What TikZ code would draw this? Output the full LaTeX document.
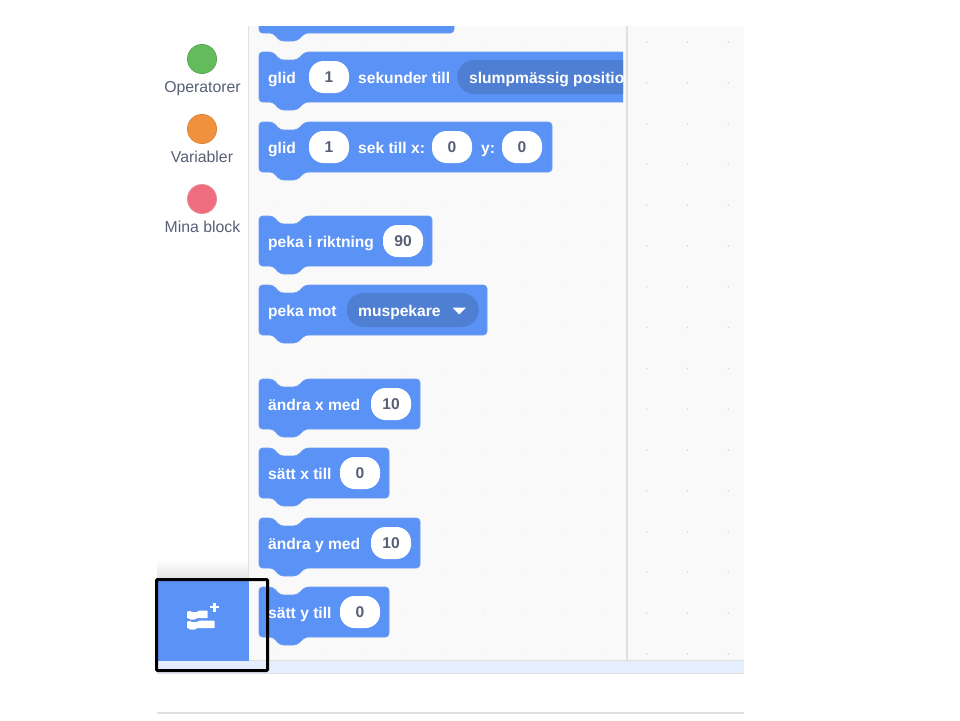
\documentclass[tikz,border=0pt]{standalone}
\usepackage{fontspec}
\setmainfont{Liberation Sans}
\usetikzlibrary{calc,positioning}
\definecolor{bleubloc}{HTML}{5B92F6}
\definecolor{bordbloc}{HTML}{6C9BF0}
\definecolor{bleusombre}{HTML}{4F7FD2}
\definecolor{gristexte}{HTML}{575E75}
\definecolor{fond}{HTML}{F9F9F9}
\definecolor{trait}{HTML}{E0E0E0}
\definecolor{bande}{HTML}{E5EEFF}
\definecolor{vert}{HTML}{63BB5C}
\definecolor{bordvert}{HTML}{58A653}
\definecolor{orange}{HTML}{F0923D}
\definecolor{bordorange}{HTML}{DB8434}
\definecolor{rose}{HTML}{EE6E80}
\definecolor{bordrose}{HTML}{E8909C}

\begin{document}
\begin{tikzpicture}[x=1pt,y=-1pt]
  %
% Styles
%
\tikzset{every node/.style={font=\fontsize{15.6}{18}\selectfont}};%
\tikzset{texte/.style={anchor=base west, inner sep=0pt, text=white, font=\fontsize{15.6}{18}\selectfont\bfseries}};%
\tikzset{champ/.style={fill=white, text=gristexte, rounded corners=14.5, minimum width=40, minimum height=32, inner sep=0pt, font=\fontsize{15.6}{18}\selectfont\bfseries}};%
\tikzset{liste/.style={fill=bleusombre, rounded corners=16.9, minimum height=34, inner sep=0pt, anchor=west}};%
\tikzset{categorie/.style={text=gristexte, inner sep=0pt, anchor=base, font=\fontsize{15.8}{18}\selectfont}};%
\tikzset{ligne/.style={trait, line width=1.5}};%
\tikzset{rond/.style={line width=0.7}};%
\tikzset{bloc/.pic={\filldraw[fill=bleubloc, draw=bordbloc, line width=0.6, rounded corners=3.5] (0,0) -- (14,0) -- (21,8) -- (38,8) -- (46,0) -- (#1,0) -- (#1,50) -- (46,50) -- (38,58) -- (21,58) -- (14,50) -- (0,50) -- cycle;}};%

\useasboundingbox (0,0) rectangle (960,720);%

%
% Panels
%
\fill[fond] (249,26) rectangle (744,660);%
\shade[top color=white, bottom color=trait] (157,560) rectangle (249,581);%
\draw[ligne] (248.5,26) -- (248.5,581);%
\draw[ligne, line width=2] (626.5,26) -- (626.5,660);%
\fill[bande] (157,660) rectangle (744,673);%
\draw[trait, line width=1] (249,660) -- (744,660);%
\draw[trait, line width=1] (157,673.5) -- (744,673.5);%
\draw[trait, line width=2] (157,713) -- (744,713);%

% The dots of the script area
\foreach \y in {42,82.8,...,655} {%
  \foreach \x in {646.7,687.5,728.2} {%
    \fill[black!18] (\x,\y) circle[radius=0.8];%
  }%
  \foreach \x in {279.5,320.3,...,610} {%
    \fill[black!7] (\x,\y) circle[radius=0.8];%
  }%
}%

%
% Categories
%
\filldraw[rond, fill=vert, draw=bordvert] (202,59) circle[radius=14.6];%
\filldraw[rond, fill=orange, draw=bordorange] (202,129) circle[radius=14.6];%
\filldraw[rond, fill=rose, draw=bordrose] (202,199) circle[radius=14.6];%
\node[categorie] (operatorer) at (202.5,92) {Operatorer};%
\node[categorie] (variabler) at (202,162) {Variabler};%
\node[categorie] (minablock) at (202.5,232) {Mina block};%

%
% Blocks
%
\begin{scope}
  \clip (249,26) rectangle (623,660);%
  \pic at (259,-17) {bloc=195};%
  \pic at (259,52) {bloc=420};%
  \node[texte] (glidA) at (268,83) {glid};%
  \node[champ] (tidA) at (329,77) {1};%
  \node[texte] (sekunder) at (358,83) {sekunder till};%
  \node[liste, minimum width=220] (position) at (457,77) {};%
  \node[texte] (slump) at (469,83) {slumpmässig position};%
\end{scope}

\pic at (259,122) {bloc=293};%
\node[texte] (glidB) at (268,153) {glid};%
\node[champ] (tidB) at (329,147) {1};%
\node[texte] (sek) at (358,153) {sek till x:};%
\node[champ] (glidx) at (452,147) {0};%
\node[texte] (ylabel) at (481,153) {y:};%
\node[champ] (glidy) at (522,147) {0};%

\pic at (259,216) {bloc=173};%
\node[texte] (riktning) at (268,247) {peka i riktning};%
\node[champ] (vinkel) at (403,241) {90};%

\pic at (259,285) {bloc=228};%
\node[texte] (mot) at (268,316) {peka mot};%
\node[liste, minimum width=132] (mal) at (346.5,310) {};%
\node[texte] (muspekare) at (358,316) {muspekare};%
\fill[white, rounded corners=0.6] (452.5,307.5) -- (466,307.5) -- (459.2,314.5) -- cycle;%

\pic at (259,379) {bloc=161};%
\node[texte] (andrax) at (268,410) {ändra x med};%
\node[champ] (stegx) at (391,404) {10};%

\pic at (259,448) {bloc=130};%
\node[texte] (sattx) at (268,479) {sätt x till};%
\node[champ] (varx) at (360,473) {0};%

\pic at (259,518) {bloc=161};%
\node[texte] (andray) at (268,549) {ändra y med};%
\node[champ] (stegy) at (391,543) {10};%

\pic at (259,587) {bloc=130};%

%
% Extension button
%
\fill[bleubloc] (157,581) rectangle (249,661);%
\node[texte] (satty) at (268,618) {sätt y till};%
\node[champ] (vary) at (360,612) {0};%
\fill[white, rounded corners=0.5] (187,611.5) -- (190,611) -- (192,612) -- (197,612) -- (199,610.5) -- (207.5,610.5) -- (207.5,618) -- (197,618) -- (195,619.5) -- (190,619.5) -- (188,618) -- (187,618) -- cycle;%
\fill[white, rounded corners=0.5] (187,621.5) -- (190,621) -- (192,622) -- (197,622) -- (199,620.5) -- (214.5,620.5) -- (214.5,628) -- (197,628) -- (195,629.5) -- (190,629.5) -- (188,628) -- (187,628) -- cycle;%
\draw[white, line width=2.6] (210,607) -- (219,607);%
\draw[white, line width=2.6] (214.5,602.5) -- (214.5,611.5);%

% The frame round the button
\draw[black, line width=3, rounded corners=1] (156.5,579.5) rectangle (267.5,670.5);%
\end{tikzpicture}
\end{document}
